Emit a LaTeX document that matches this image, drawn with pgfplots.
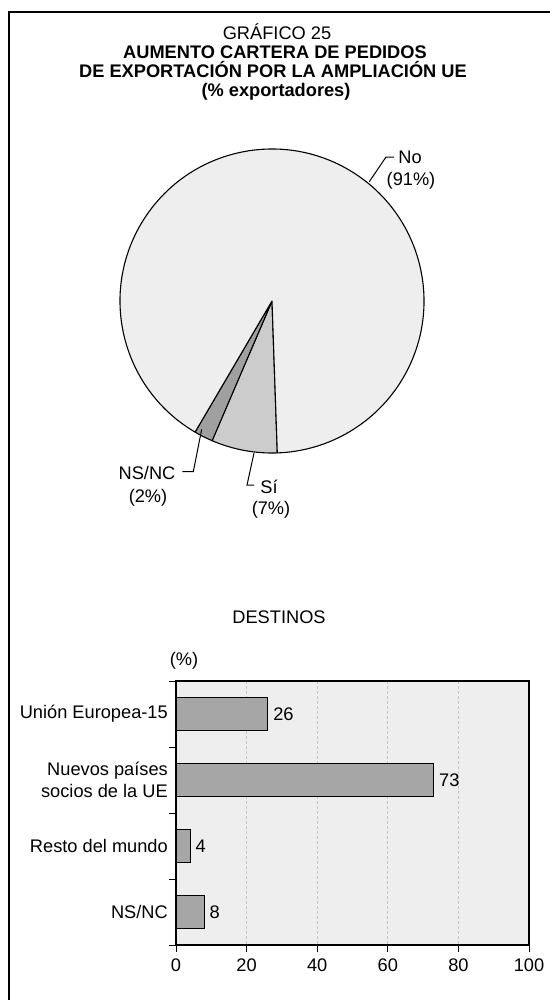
\documentclass[border=0pt]{standalone}
\usepackage{fontspec}
\setmainfont{Liberation Sans}
\usepackage{pgfplots}
\usepackage{pgfplotstable}
\pgfplotsset{compat=1.18}
\pgfkeys{/pgf/number format/assume math mode=true}
\definecolor{nofill}{HTML}{EEEEEE}
\definecolor{sifill}{HTML}{CCCCCC}
\definecolor{nsfill}{HTML}{A0A0A0}
\definecolor{barfill}{HTML}{A6A6A6}
\definecolor{bgfill}{HTML}{EEEEEE}
\definecolor{gridc}{HTML}{C4C4C4}
\newcommand\txt{\fontsize{18.3}{22}\selectfont}
\newcommand\ttl{\fontsize{18.3}{21}\selectfont}

\pgfplotstableread{
label value
Si 7
NSNC 2
No 91
}\pietable
\pgfplotstableread{
y value
0 26
1 73
2 4
3 8
}\bartable

\begin{document}
\begin{tikzpicture}[x=1bp,y=-1bp]
\useasboundingbox (0,0) rectangle (550,1000);
\fill[white] (0,0) rectangle (550,1000);
\draw[line width=1.5bp] (9,1000) -- (9,12) -- (550,12);
% title
\node[font=\ttl, anchor=base, inner sep=0pt] at (277,39.5) {GRÁFICO 25};
\node[font=\ttl\bfseries, anchor=base, inner sep=0pt] at (275,58.5) {AUMENTO CARTERA DE PEDIDOS};
\node[font=\ttl\bfseries, anchor=base, inner sep=0pt] at (273,77.5) {DE EXPORTACIÓN POR LA AMPLIACIÓN UE};
\node[font=\ttl\bfseries, anchor=base, inner sep=0pt] at (276,96.5) {(\% exportadores)};

\pgfplotstablegetelem{0}{value}\of\pietable\let\vA\pgfplotsretval
\pgfplotstablegetelem{1}{value}\of\pietable\let\vB\pgfplotsretval
\pgfplotstablegetelem{2}{value}\of\pietable\let\vC\pgfplotsretval
\pgfmathsetmacro\aA{-88}
\pgfmathsetmacro\aB{\aA-3.6*\vA}
\pgfmathsetmacro\aC{\aB-3.6*\vB}
\pgfmathsetmacro\aD{\aC-3.6*\vC}

\begin{axis}[at={(272bp,-301bp)}, anchor=center, width=304bp, height=304bp,
  scale only axis, hide axis, xmin=-1, xmax=1, ymin=-1, ymax=1, clip=false]
\filldraw[fill=sifill, draw=black, line width=1.1bp, line join=round] (axis cs:0,0) -- (axis cs:{cos(\aA)},{sin(\aA)}) arc[start angle=\aA, end angle=\aB, radius=152bp] -- cycle;
\filldraw[fill=nsfill, draw=black, line width=1.1bp, line join=round] (axis cs:0,0) -- (axis cs:{cos(\aB)},{sin(\aB)}) arc[start angle=\aB, end angle=\aC, radius=152bp] -- cycle;
\filldraw[fill=nofill, draw=black, line width=1.1bp, line join=round] (axis cs:0,0) -- (axis cs:{cos(\aC)},{sin(\aC)}) arc[start angle=\aC, end angle=\aD, radius=152bp] -- cycle;
\end{axis}

% pie labels
\draw[line width=1bp] (369.3,181.7) -- (386,157) -- (394,157);
\node[font=\txt, anchor=base, inner sep=0pt] at (410,163) {No};
\node[font=\txt, anchor=base, inner sep=0pt] at (411,185.5) {(91\%)};
\draw[line width=1bp] (254,453) -- (247,485) -- (254,485);
\node[font=\txt, anchor=base, inner sep=0pt] at (269,493) {Sí};
\node[font=\txt, anchor=base, inner sep=0pt] at (271,514.5) {(7\%)};
\draw[line width=1bp] (201.7,429.3) -- (193.3,471.7) -- (182.3,471.7);
\node[font=\txt, anchor=base, inner sep=0pt] at (147,479) {NS/NC};
\node[font=\txt, anchor=base, inner sep=0pt] at (148,502) {(2\%)};

\node[font=\txt, anchor=base, inner sep=0pt] at (279,623) {DESTINOS};
\node[font=\txt, anchor=base, inner sep=0pt] at (184,665) {(\%)};

\begin{axis}[
  at={(176bp,-945bp)}, anchor=south west,
  scale only axis, width=353bp, height=264bp,
  xbar, bar width=33bp,
  xmin=0, xmax=100, ymin=-0.5, ymax=3.5, y dir=reverse,
  axis background/.style={fill=bgfill},
  axis line style={line width=1.4bp},
  xtick={0,20,40,60,80,100},
  ytick={-0.5,0.5,1.5,2.5,3.5},
  yticklabels={,,,,},
  extra y ticks={0,1,2,3},
  extra y tick labels={Unión Europea-15,{Nuevos países\\socios de la UE},Resto del mundo,NS/NC},
  extra y tick style={major tick length=0pt},
  tick align=outside, tick pos=left,
  major tick length=7bp,
  every tick/.style={black, line width=1bp},
  xmajorgrids, major x grid style={gridc, dash pattern=on 3bp off 2bp, line width=0.8bp},
  ticklabel style={font=\txt},
  yticklabel style={align=right, inner xsep=0pt, xshift=-8bp},
  xticklabel style={yshift=-3bp},
  nodes near coords,
  nodes near coords style={font=\txt, anchor=west, inner xsep=5bp},
  clip=false,
]
\addplot[fill=barfill, draw=black, line width=1bp] table[x=value, y=y]{\bartable};
\end{axis}
\end{tikzpicture}
\end{document}
